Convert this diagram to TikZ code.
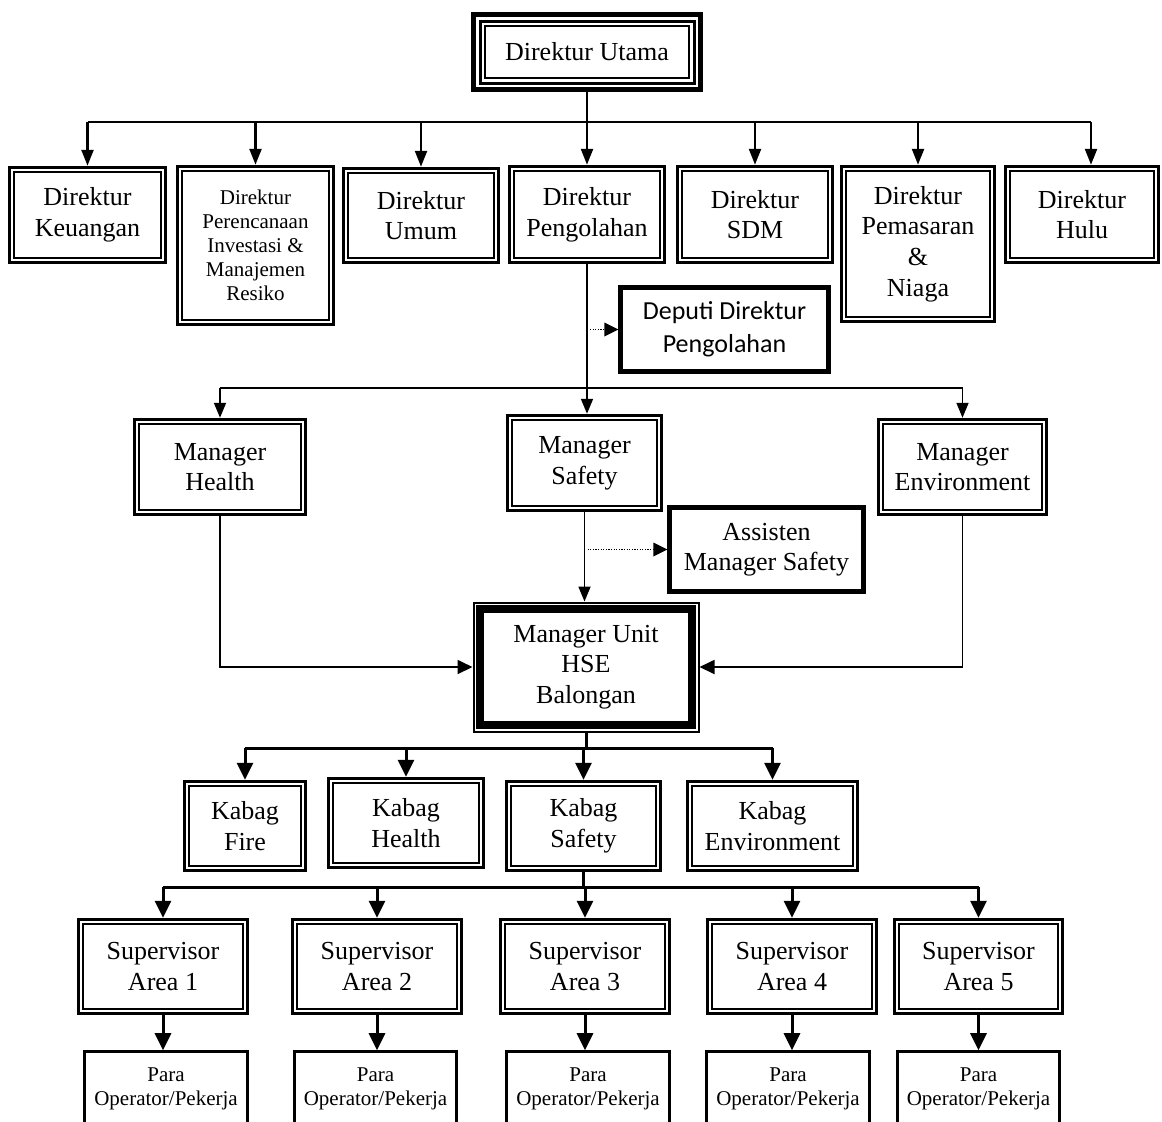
\documentclass[tikz,border=0pt]{standalone}
\usepackage{fontspec}
\setmainfont{Liberation Serif}
\newfontfamily\calibrifont{Carlito}
\usetikzlibrary{arrows.meta}
\begin{document}
\begin{tikzpicture}[x=0.5pt,y=-0.5pt,
  pos box/.style n args={4}{at={({(#1+#3)/2},{(#2+#4)/2})},
     minimum width={(#3-#1-3)*0.5pt}, minimum height={(#4-#2-3)*0.5pt}},
  basebox/.style={align=center, inner sep=0pt, font=\fontsize{13pt}{15.3pt}\selectfont},
  dbox/.style={basebox, draw, line width=1.75pt,
     path picture={\draw[line width=1pt]
        ([shift={(2.4pt,-2.4pt)}]path picture bounding box.north west) rectangle
        ([shift={(-2.4pt,2.4pt)}]path picture bounding box.south east);}},
  tribox/.style={basebox, draw, line width=2.5pt,
     path picture={\draw[line width=1.5pt]
        ([shift={(3.25pt,-3.25pt)}]path picture bounding box.north west) rectangle
        ([shift={(-3.25pt,3.25pt)}]path picture bounding box.south east);
        \draw[line width=1pt]
        ([shift={(5.75pt,-5.75pt)}]path picture bounding box.north west) rectangle
        ([shift={(-5.75pt,5.75pt)}]path picture bounding box.south east);}},
  hsebox/.style={basebox, draw, line width=1pt,
     path picture={\draw[line width=3.8pt]
        ([shift={(3.2pt,-3.2pt)}]path picture bounding box.north west) rectangle
        ([shift={(-3.2pt,3.2pt)}]path picture bounding box.south east);}},
  sbox/.style={basebox, draw, line width=2.2pt},
  obox/.style={basebox, draw, line width=1.3pt, font=\fontsize{10.5pt}{12pt}\selectfont},
  smalltext/.style={font=\fontsize{10.5pt}{12pt}\selectfont},
  toplink/.style={line width=1.2pt},
  toparrow/.style={toplink, -{Triangle[length=8pt,width=6pt]}},
  midlink/.style={line width=0.9pt},
  midarrow/.style={midlink, -{Triangle[length=7.5pt,width=6pt]}},
  sidearrow/.style={midlink, -{Triangle[length=7.5pt,width=7pt]}},
  dotarrow/.style={line width=0.6pt, dash pattern=on 0.6pt off 0.7pt, -{Triangle[length=7pt,width=7pt,line width=0pt]}},
  botlink/.style={line width=1.5pt},
  botarrow/.style={botlink, -{Triangle[length=8.5pt,width=8pt]}}
]
\useasboundingbox (0,0) rectangle (1162,1121);

% Direktur Utama
\node[tribox, pos box={472}{13}{702}{91}] (utama) {Direktur Utama};

% Directors
\node[dbox, pos box={8}{166}{167}{264}] (keu) {Direktur\\Keuangan};
\node[dbox, smalltext, pos box={176}{165}{335}{326}] (per) {Direktur\\Perencanaan\\Investasi \&\\Manajemen\\Resiko};
\node[dbox, pos box={342}{167}{500}{264}] (umum) {Direktur\\Umum};
\node[dbox, pos box={508}{165}{666}{264}] (peng) {Direktur\\Pengolahan};
\node[dbox, pos box={676}{165}{834}{264}] (sdm) {Direktur\\SDM};
\node[dbox, pos box={840}{165}{996}{323}] (pem) {Direktur\\Pemasaran\\\&\\Niaga};
\node[dbox, pos box={1004}{165}{1160}{264}] (hulu) {Direktur\\Hulu};

\node[sbox, font=\calibrifont\fontsize{13pt}{16.5pt}\selectfont, pos box={619}{286}{830}{373}] (deputi) {Deputi Direktur\\Pengolahan};

% Managers
\node[dbox, pos box={133}{418}{307}{516}] (mh) {Manager\\Health};
\node[dbox, pos box={506}{414}{663}{512}] (ms) {Manager\\Safety};
\node[dbox, pos box={877}{418}{1048}{516}] (me) {Manager\\Environment};
\node[sbox, pos box={668}{506}{865}{593}] (asm) {Assisten\\Manager Safety};

\node[hsebox, pos box={472}{601}{700}{733}] (hse) {Manager Unit\\HSE\\Balongan};

% Kabag
\node[dbox, pos box={183}{780}{307}{872}] (kf) {Kabag\\Fire};
\node[dbox, pos box={327}{777}{485}{869}] (kh) {Kabag\\Health};
\node[dbox, pos box={505}{780}{662}{872}] (ks) {Kabag\\Safety};
\node[dbox, pos box={686}{780}{859}{872}] (ke) {Kabag\\Environment};

% Supervisors
\node[dbox, pos box={77}{918}{249}{1015}] (s1) {Supervisor\\Area 1};
\node[dbox, pos box={291}{918}{463}{1015}] (s2) {Supervisor\\Area 2};
\node[dbox, pos box={499}{918}{671}{1015}] (s3) {Supervisor\\Area 3};
\node[dbox, pos box={706}{918}{878}{1015}] (s4) {Supervisor\\Area 4};
\node[dbox, pos box={893}{918}{1064}{1015}] (s5) {Supervisor\\Area 5};

% Operators
\node[obox, pos box={83}{1050}{249}{1128}] (o1) {Para\\Operator/Pekerja};
\node[obox, pos box={293}{1050}{458}{1128}] (o2) {Para\\Operator/Pekerja};
\node[obox, pos box={505}{1050}{671}{1128}] (o3) {Para\\Operator/Pekerja};
\node[obox, pos box={705}{1050}{871}{1128}] (o4) {Para\\Operator/Pekerja};
\node[obox, pos box={896}{1050}{1061}{1128}] (o5) {Para\\Operator/Pekerja};

% Top bus
\coordinate (b1) at (587,122);
\coordinate (hn) at ([xshift=4.5pt]hulu.north);
\draw[toplink] (utama.south) -- (b1);
\draw[toplink] (keu.north |- b1) -- (hn |- b1);
\foreach \n in {keu,per,umum,peng,sdm,pem}{
  \draw[toparrow] (\n.north |- b1) -- (\n.north);
}
\draw[toparrow] (hn |- b1) -- (hn);

% Pengolahan down
\coordinate (b2) at (587,388);
\draw[midarrow] (peng.south) -- (peng.south |- ms.north);
\draw[midlink] (mh.north |- b2) -- (me.north |- b2);
\draw[midarrow] (mh.north |- b2) -- (mh.north);
\draw[midarrow] (me.north |- b2) -- (me.north);
\draw[dotarrow] ([xshift=1.5pt]peng.south |- deputi.west) -- (deputi.west);

% Managers to HSE
\draw[midarrow] (ms.south) -- (ms.south |- hse.north);
\draw[dotarrow] ([xshift=1.5pt]ms.south |- asm.west) -- (asm.west);
\draw[sidearrow] (mh.south) |- (hse.west);
\draw[sidearrow] (me.south) |- (hse.east);

% HSE to Kabag
\coordinate (b3) at (586,748);
\draw[botlink] (hse.south) -- (hse.south |- b3);
\draw[botlink] (kf.north |- b3) -- (ke.north |- b3);
\foreach \n in {kf,kh,ks,ke}{
  \draw[botarrow] (\n.north |- b3) -- (\n.north);
}

% Kabag Safety to Supervisors
\coordinate (b4) at (585,887);
\draw[botlink] (ks.south) -- (ks.south |- b4);
\draw[botlink] (s1.north |- b4) -- (s5.north |- b4);
\foreach \n in {s1,s2,s3,s4,s5}{
  \draw[botarrow] (\n.north |- b4) -- (\n.north);
}
\draw[botarrow] (s1.south) -- (s1.south |- o1.north);
\draw[botarrow] (s2.south) -- (s2.south |- o2.north);
\draw[botarrow] (s3.south) -- (s3.south |- o3.north);
\draw[botarrow] (s4.south) -- (s4.south |- o4.north);
\draw[botarrow] (s5.south) -- (s5.south |- o5.north);
\end{tikzpicture}
\end{document}
